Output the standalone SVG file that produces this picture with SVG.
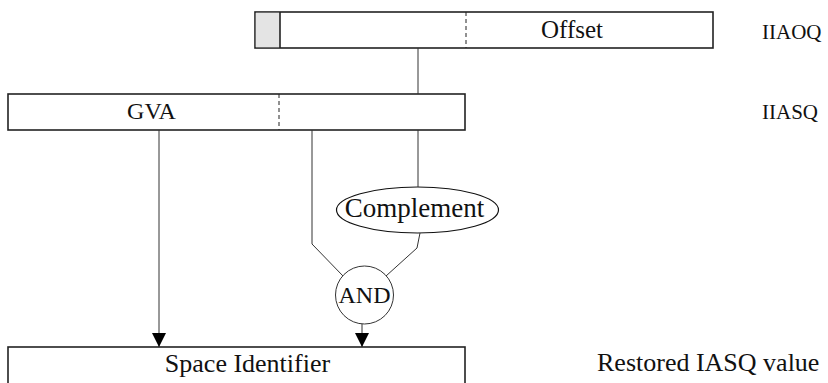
<svg xmlns="http://www.w3.org/2000/svg" width="828" height="383" viewBox="0 0 828 383">
<style>
.t{font-family:'Liberation Serif','Times New Roman',serif;fill:#111;}
.c{text-anchor:middle;}
.box{fill:#fff;stroke:#222;stroke-width:1.6;}
.dash{stroke:#222;stroke-width:1;stroke-dasharray:4,3;}
.ln{fill:none;stroke:#333;stroke-width:1;}
</style>
<defs>
<marker id="arr" markerWidth="14" markerHeight="14" refX="14" refY="7" orient="auto" markerUnits="userSpaceOnUse">
<path d="M0,0 L14,7 L0,14 Z" fill="#000"/>
</marker>
</defs>
<g id="iaoq">
<rect class="box" x="255" y="12" width="458" height="36"/>
<rect x="255.8" y="12.8" width="24.2" height="34.4" fill="#e4e4e4"/>
<line x1="280" y1="12" x2="280" y2="48" stroke="#222" stroke-width="1.6"/>
<line class="dash" x1="466" y1="12" x2="466" y2="48"/>
<text class="t c" x="572" y="38" font-size="25">Offset</text>
</g>
<g id="label-iiaoq"><text class="t" x="762" y="39" font-size="21">IIAOQ</text></g>
<g id="iasq">
<rect class="box" x="8" y="94" width="457" height="36"/>
<line class="dash" x1="279" y1="94" x2="279" y2="130"/>
<text class="t c" x="151.5" y="119" font-size="24">GVA</text>
</g>
<g id="label-iiasq"><text class="t" x="762" y="119" font-size="21">IIASQ</text></g>
<g id="complement">
<ellipse cx="417.5" cy="210" rx="81" ry="23" fill="#fff" stroke="#111" stroke-width="1.2"/>
<text class="t c" x="414.5" y="217" font-size="27">Complement</text>
</g>
<g id="and">
<circle cx="364.5" cy="295" r="29" fill="#fff" stroke="#333" stroke-width="1"/>
<text class="t c" x="364.5" y="303" font-size="24">AND</text>
</g>
<g id="space">
<rect class="box" x="8" y="347" width="457" height="60"/>
<text class="t c" x="247.5" y="372" font-size="26">Space Identifier</text>
</g>
<g id="label-restored"><text class="t" x="597" y="371" font-size="26">Restored IASQ value</text></g>
<g id="connectors">
<line class="ln" x1="418" y1="48" x2="418" y2="94"/>
<line class="ln" x1="418" y1="130" x2="418" y2="187"/>
<polyline class="ln" points="312,130 312,244 343,276"/>
<polyline class="ln" points="420,233 417,248 386,276"/>
<line class="ln" x1="159" y1="130" x2="159" y2="347" marker-end="url(#arr)"/>
<line class="ln" x1="362" y1="324" x2="362" y2="347" marker-end="url(#arr)"/>
</g>
</svg>
